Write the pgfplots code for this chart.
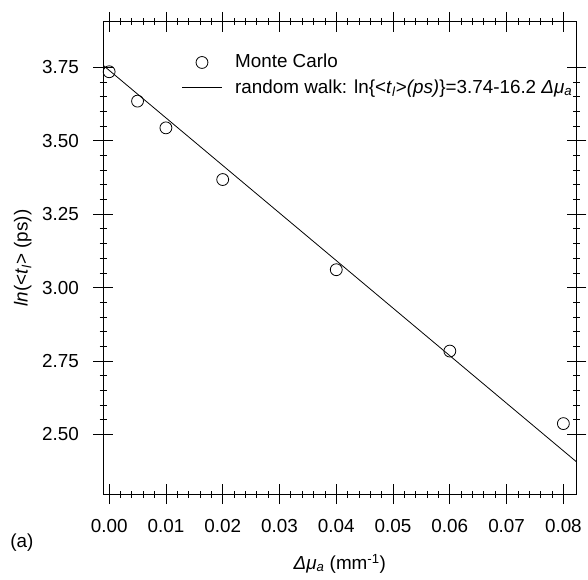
\documentclass[border=0pt]{standalone}
\usepackage{pgfplots}
\pgfplotsset{compat=1.18}
\usepackage{fontspec}
\setmainfont{Liberation Sans}
\pgfplotsset{
  markleg/.style={legend image code/.code={\draw[##1] plot coordinates {(20pt,0pt)};}},
  lineleg/.style={legend image code/.code={\draw[##1] (0pt,0pt) -- (40pt,0pt);}},
}
\begin{document}
\fontsize{19pt}{22pt}\selectfont
\begin{tikzpicture}
\begin{axis}[
  scale only axis,
  width=477pt, height=476pt,
  xmin=-0.00105, xmax=0.0823,
  ymin=2.297, ymax=3.905,
  xtick={0,0.01,...,0.08},
  ytick={2.5,2.75,3,3.25,3.5,3.75},
  minor x tick num=4,
  minor y tick num=4,
  tick align=center,
  major tick length=20pt,
  minor tick length=7pt,
  tick style={black, line width=0.8pt},
  axis line style={line width=0.9pt},
  xticklabel pos=lower, yticklabel pos=left,
  xtick pos=both, ytick pos=both,
  /pgf/number format/assume math mode=true,
  /pgf/number format/.cd, fixed, fixed zerofill, precision=2,
  /pgfplots/.cd,
  xticklabel style={/pgf/number format/precision=2, yshift=-9pt},
  yticklabel style={xshift=-8pt},
  ticklabel style={font=\fontsize{19pt}{22pt}\selectfont},
  scaled x ticks=false,
  xlabel={\textit{Δμ}\textsubscript{\textit{a}} (mm\textsuperscript{-1})},
  ylabel={\textit{ln}(<\textit{t}\textsubscript{\textit{l}}> (ps))},
  label style={font=\fontsize{19pt}{22pt}\selectfont},
  xlabel style={at={(rel axis cs:0.5,0)}, anchor=center, yshift=-70pt},
  ylabel style={at={(rel axis cs:0,0.5)}, anchor=center, yshift=81pt},
  legend style={draw=none, fill=none, at={(rel axis cs:0.1656,0.936)}, anchor=north west,
    font=\fontsize{19pt}{22pt}\selectfont, row sep=5pt, column sep=11pt, inner sep=0pt},
  legend cell align=left,
]
\addplot[only marks, mark=o, mark size=6pt, mark options={line width=0.8pt}, markleg] coordinates {
  (0.000,3.735) (0.005,3.635) (0.010,3.544) (0.020,3.368) (0.040,3.061) (0.060,2.784) (0.080,2.537)
};
\addlegendentry{Monte Carlo}
\addplot[black, line width=0.8pt, lineleg] coordinates {(-0.00105,3.757) (0.0823,2.407)};
\addlegendentry{random walk: ln\{<\textit{t}\textsubscript{\textit{l}}>\textit{(ps)}\}=3.74-16.2 \textit{Δμ}\textsubscript{\textit{a}}}
\end{axis}
\node at ([xshift=-82pt,yshift=-49pt]current axis.south west) {(a)};
\path ([xshift=-104pt,yshift=-74pt]current axis.south west) rectangle ++(588pt,572pt);
\end{tikzpicture}
\end{document}
